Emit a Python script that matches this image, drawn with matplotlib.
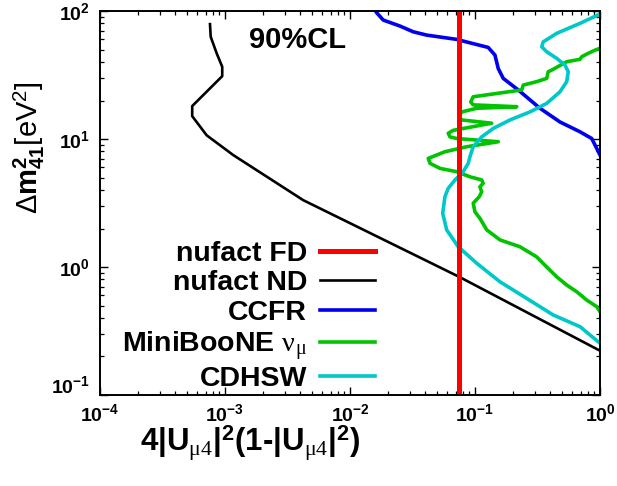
import matplotlib
matplotlib.use("Agg")
import matplotlib.pyplot as plt
from matplotlib.transforms import ScaledTranslation

plt.rcParams['font.family'] = ['Liberation Sans', 'DejaVu Sans']
plt.rcParams['font.weight'] = 'bold'
plt.rcParams['axes.labelweight'] = 'bold'
plt.rcParams['axes.unicode_minus'] = False
plt.rcParams['mathtext.fontset'] = 'custom'
plt.rcParams['mathtext.rm'] = 'Liberation Serif:weight=normal'
plt.rcParams['mathtext.it'] = 'Liberation Serif:italic:weight=normal'
plt.rcParams['mathtext.bf'] = 'Liberation Sans:weight=bold'
plt.rcParams['mathtext.sf'] = 'Liberation Sans:weight=normal'

# ---------------- data (sin^2 2theta_eff , dm41^2 [eV^2]) ----------------
fd_s2t = [0.075, 0.075]
fd_dm2 = [0.1, 100.0]

nd_s2t = [7.59e-4, 7.69e-4, 8.59e-4, 9.51e-4, 9.51e-4, 5.47e-4, 5.47e-4,
          7.14e-4, 1.164e-3, 4.23e-3, 0.0759, 1.0]
nd_dm2 = [79.1, 63.0, 46.7, 36.7, 31.0, 18.1, 15.1, 10.7, 7.50, 3.33, 0.832, 0.222]

ccfr_s2t = [0.01603, 0.01637, 0.01845, 0.02512, 0.03206, 0.04111, 0.07145,
            0.0912, 0.1276, 0.1445, 0.1535, 0.1683, 0.2218, 0.3311, 0.4786,
            0.6918, 0.8590, 0.9419, 1.0]
ccfr_dm2 = [100.0, 97.0, 85.1, 76.4, 68.9, 64.9, 60.1, 56.5, 52.0, 45.3, 35.6,
            29.8, 24.2, 17.4, 13.6, 11.4, 10.1, 8.45, 7.50]

mb_s2t = [1.0, 0.912, 0.806, 0.7145, 0.692, 0.542, 0.411, 0.3855, 0.375,
          0.3119, 0.2432, 0.2366, 0.0968, 0.0925, 0.0968, 0.2158, 0.1033,
          0.0783, 0.0748, 0.0783, 0.1361, 0.0670, 0.0611, 0.0631, 0.0714,
          0.1535, 0.0859, 0.0575, 0.0423, 0.0437, 0.0525, 0.0714, 0.0912,
          0.1132, 0.1164, 0.1096, 0.1132, 0.1081, 0.0968, 0.1, 0.1096,
          0.1242, 0.1585, 0.2291, 0.3119, 0.375, 0.4508, 0.542, 0.6516,
          0.7834, 0.9419, 1.0]
mb_dm2 = [51.2, 49.5, 46.8, 44.0, 42.0, 40.2, 34.6, 33.6, 29.8, 28.1, 26.4,
          24.2, 21.4, 19.5, 18.5, 17.9, 17.4, 16.3, 14.9, 14.1, 13.3, 11.7,
          11.1, 10.4, 10.1, 9.53, 8.71, 7.96, 7.06, 6.46, 5.90, 5.56, 5.07,
          4.79, 4.51, 4.24, 3.87, 3.54, 3.15, 2.70, 2.40, 1.95, 1.63, 1.44,
          1.20, 1.00, 0.839, 0.723, 0.641, 0.552, 0.490, 0.448]

cdhsw_s2t = [1.0, 0.692, 0.4508, 0.3516, 0.3420, 0.3750, 0.4508, 0.5248,
             0.5572, 0.5420, 0.4786, 0.3750, 0.2754, 0.1905, 0.1400, 0.1132,
             0.0968, 0.0912, 0.0883, 0.0805, 0.0692, 0.0611, 0.0575, 0.0552,
             0.0594, 0.0735, 0.1033, 0.1585, 0.2594, 0.4227, 0.692, 1.0]
cdhsw_dm2 = [94.8, 80.2, 67.0, 57.5, 52.6, 48.1, 42.7, 37.8, 33.6, 28.1, 23.4,
             19.0, 16.3, 14.1, 12.1, 10.4, 8.71, 7.28, 6.46, 5.56, 4.79, 4.12,
             3.54, 2.63, 1.95, 1.44, 1.07, 0.767, 0.569, 0.422, 0.342, 0.254]

labels = ["nufact FD", "nufact ND", "CCFR",
          r"MiniBooNE $\mathrm{\nu_{\mu}}$", "CDHSW"]

# ---------------- figure ----------------
fig = plt.figure(figsize=(6.17, 4.86), dpi=100)
ax = fig.add_axes([0.162, 0.1872, 0.8104, 0.790])

l_nd, = ax.plot(nd_s2t, nd_dm2, color='black', lw=1.9, label=labels[1])
l_ccfr, = ax.plot(ccfr_s2t, ccfr_dm2, color='#0000ee', lw=2.6, label=labels[2])
l_mb, = ax.plot(mb_s2t, mb_dm2, color='#00c400', lw=2.6, label=labels[3])
l_cd, = ax.plot(cdhsw_s2t, cdhsw_dm2, color='#00c8c8', lw=2.6, label=labels[4])
l_fd, = ax.plot(fd_s2t, fd_dm2, color='#ff0000', lw=3.6, label=labels[0])

ax.set_xscale('log')
ax.set_yscale('log')
ax.set_xlim(1e-4, 1.0)
ax.set_ylim(0.1, 100.0)

for s in ax.spines.values():
    s.set_linewidth(1.4)
ax.tick_params(which='both', direction='in', top=True, right=True)
ax.tick_params(which='major', length=5.5, width=1.0, labelsize=14, pad=6)
ax.tick_params(which='minor', length=3, width=0.9)
ax.tick_params(axis='y', which='major', pad=7)

ax.set_xlabel(r"4|U$_{\mathrm{\mu4}}$|$^{\mathbf{2}}$(1-|U$_{\mathrm{\mu4}}$|$^{\mathbf{2}}$)",
              fontsize=22.5, fontweight='bold')
ax.xaxis.set_label_coords(0.30, -0.075)
ax.xaxis.label.set_va('top')
ax.set_ylabel(r"$\mathsf{\Delta}$m$^{\mathbf{2}}_{\mathbf{41}}$$\mathsf{[eV}^{\mathsf{2}}\mathsf{]}$",
              fontsize=21, fontweight='bold')
ax.yaxis.set_label_coords(-0.106, 0.645)

ax.text(0.395, 0.924, "90%CL", transform=ax.transAxes, ha='center',
        va='center', fontsize=21, fontweight='bold')

ax.legend(handles=[l_fd, l_nd, l_ccfr, l_mb, l_cd], loc='upper right',
          bbox_to_anchor=(0.551, 0.402), frameon=False, markerfirst=False,
          fontsize=20.5, handlelength=1.95, handletextpad=0.45,
          labelspacing=0.12, borderpad=0, borderaxespad=0)

fig.canvas.draw()
yt = ax.yaxis.get_major_ticks()
for t in yt:
    if abs(t.get_loc() - 0.1) < 1e-9:
        t.label1.set_transform(t.label1.get_transform() +
                               ScaledTranslation(0, 8 / 72, fig.dpi_scale_trans))

fig.savefig("out.png", dpi=100)
